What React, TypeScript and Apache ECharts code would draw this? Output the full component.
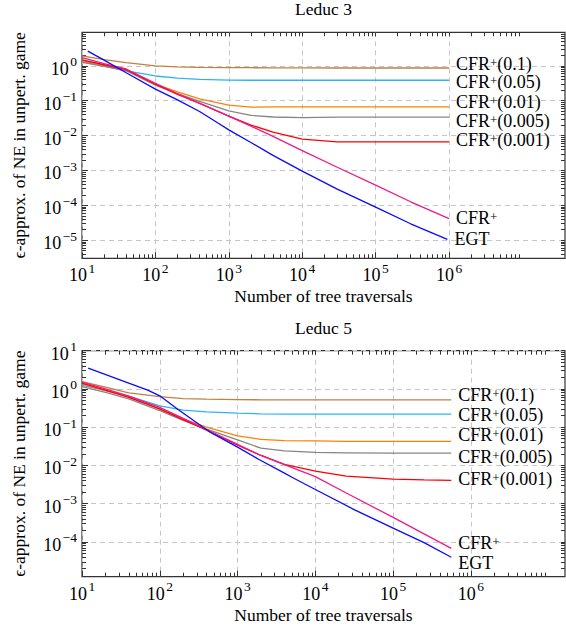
import React, { useEffect, useRef } from 'react';
import * as echarts from 'echarts';

const FONT = "'Liberation Serif', 'Times New Roman', serif";

// ---------- texts ----------
const TITLES = ['Leduc 3', 'Leduc 5'];
const X_NAME = 'Number of tree traversals';
const Y_NAME = 'ϵ-approx. of NE in unpert. game';
const SERIES_NAMES = ['CFR+(0.1)', 'CFR+(0.05)', 'CFR+(0.01)', 'CFR+(0.005)', 'CFR+(0.001)', 'CFR+', 'EGT'];
const SERIES_COLORS = ['#bf8040', '#2db4ee', '#ff8000', '#858585', '#ff0000', '#ec1b8c', '#0a0aff'];

// ---------- Leduc 3 data ----------
const L3_X = [10, 20, 40, 100, 200, 400, 1000, 2000, 4000, 10000, 30000, 100000, 300000, 1000000];
const L3_CFR_01 = [1.91, 1.51, 1.23, 1.0, 0.93, 0.9, 0.89, 0.88, 0.87, 0.867, 0.865, 0.865, 0.865, 0.865];
const L3_CFR_005 = [1.41, 1.0, 0.71, 0.51, 0.44, 0.41, 0.39, 0.385, 0.385, 0.385, 0.385, 0.385, 0.385, 0.385];
const L3_CFR_001 = [1.32, 1.0, 0.74, 0.3, 0.178, 0.112, 0.074, 0.065, 0.066, 0.066, 0.066, 0.066, 0.066, 0.066];
const L3_CFR_0005 = [1.26, 0.955, 0.72, 0.28, 0.158, 0.095, 0.051, 0.038, 0.034, 0.0327, 0.0335, 0.0339, 0.0339, 0.0339];
const L3_CFR_0001 = [1.48, 1.07, 0.776, 0.295, 0.151, 0.083, 0.036, 0.02, 0.0126, 0.0079, 0.0066, 0.0066, 0.0066, 0.0066];
const L3_CFR = [1.72, 1.15, 0.81, 0.316, 0.158, 0.085, 0.036, 0.0186, 0.0095, 0.0037, 0.00123, 0.00038, 0.000126, 0.0000417];
const L3_EGT_X = [12, 20, 40, 100, 200, 400, 720, 1000, 2000, 4000, 10000, 30000, 100000, 300000, 950000];
const L3_EGT = [2.63, 1.45, 0.63, 0.214, 0.105, 0.049, 0.0224, 0.0145, 0.0063, 0.0027, 0.00095, 0.00029, 0.000089, 0.0000295, 0.0000105];

// ---------- Leduc 5 data ----------
const L5_X = [10, 20, 40, 100, 200, 400, 1000, 2000, 4000, 10000, 25000, 100000, 250000, 560000];
const L5_CFR_01 = [1.55, 1.12, 0.79, 0.63, 0.56, 0.54, 0.525, 0.52, 0.52, 0.52, 0.52, 0.52, 0.52, 0.52];
const L5_CFR_005 = [1.26, 0.91, 0.645, 0.363, 0.28, 0.25, 0.234, 0.224, 0.219, 0.219, 0.219, 0.219, 0.219, 0.219];
const L5_CFR_001 = [1.35, 0.91, 0.63, 0.295, 0.166, 0.1, 0.0589, 0.0479, 0.0447, 0.0437, 0.0427, 0.0427, 0.0427, 0.0427];
const L5_CFR_0005 = [1.15, 0.81, 0.55, 0.27, 0.151, 0.089, 0.0468, 0.0282, 0.024, 0.0219, 0.0214, 0.0209, 0.0209, 0.0209];
const L5_CFR_0001 = [1.41, 0.933, 0.603, 0.302, 0.158, 0.083, 0.0339, 0.0182, 0.0107, 0.00708, 0.00525, 0.00437, 0.00417, 0.00407];
const L5_CFR = [1.5, 1.0, 0.645, 0.331, 0.17, 0.087, 0.0355, 0.0182, 0.0105, 0.0051, 0.0019, 0.000437, 0.000162, 0.0000676];
const L5_EGT_X = [12, 70, 100, 170, 450, 1000, 1860, 3900, 5000, 10000, 32000, 100000, 250000, 560000];
const L5_EGT = [3.5, 0.93, 0.66, 0.295, 0.0724, 0.0302, 0.0145, 0.00646, 0.0049, 0.00234, 0.00069, 0.000229, 0.0000955, 0.0000398];

// ---------- axes (powers of ten) ----------
const L3_X_RANGE = [1, 7.58];
const L3_Y_RANGE = [-5.52, 0.96];
const L5_X_RANGE = [1, 7.21];
const L5_Y_RANGE = [-4.91, 1];
const X_TICK_LABELS = [1, 2, 3, 4, 5, 6];
const L3_Y_TICK_LABELS = [-5, -4, -3, -2, -1, 0];
const L5_Y_TICK_LABELS = [-4, -3, -2, -1, 0, 1];
const X_TICK_DECADES = [1, 2, 3, 4, 5, 6];

// ---------- label nudges (layout) ----------
const L3_LABEL_DY = [-2.5, 3.5, -3.5, 5, 0, 1, 1];
const L5_LABEL_DY = [-3.5, 2.5, -5, 5, 0, -3.5, 7];

const minorTicks = (decades: number[], range: number[]) => {
  const out: number[] = [];
  decades.forEach((n) => {
    for (let k = 1; k <= 9; k++) {
      const e = n + Math.log10(k);
      if (e >= range[0] - 1e-9 && e <= range[1] + 1e-9) out.push(e);
    }
  });
  return out;
};
const decadesOf = (range: number[]) => {
  const out: number[] = [];
  for (let n = Math.floor(range[0]); n <= Math.floor(range[1]); n++) out.push(n);
  return out;
};

const supRich = {
  b: { fontFamily: FONT, fontSize: 18, lineHeight: 18, color: '#000', verticalAlign: 'bottom' },
  s: { fontFamily: FONT, fontSize: 13.5, lineHeight: 10, color: '#000', verticalAlign: 'bottom', padding: [0, 0, 9, 1.5] },
};
const nameRich = {
  n: { fontFamily: FONT, fontSize: 18, lineHeight: 15, color: '#000', verticalAlign: 'bottom' },
  p: { fontFamily: FONT, fontSize: 13, lineHeight: 11, color: '#000', verticalAlign: 'bottom', padding: [0, 0, 4, 0] },
};
const powLabel = (v: number) => {
  const e = Math.round(v);
  const s = e < 0 ? '\u2212' + -e : String(e);
  return `{b|10}{s|${s}}`;
};
const richName = (name: string) => {
  const i = name.indexOf('+');
  if (i < 0) return `{n|${name}}`;
  const rest = name.slice(i + 1);
  return `{n|${name.slice(0, i)}}{p|+}` + (rest ? `{n|${rest}}` : '');
};

const GRID_LEFT = 82;
const GRID_W = 483;
const GRID_H = 226;
const GRID_TOPS = [32.3, 350.7];
const TITLE_TOPS = [0, 318.5];

function buildPanel(p: number, cfg: any) {
  const gi = p;
  const base = p * 4;
  const split = { show: true, lineStyle: { color: '#c6c6c6', width: 1, type: [5, 4] } };
  const noLine = { show: false, onZero: false };
  const tickStyle = { color: '#333', width: 1 };
  const xMinor = minorTicks(X_TICK_DECADES, cfg.xRange);
  const yMinor = minorTicks(decadesOf(cfg.yRange), cfg.yRange);

  const xAxes = [
    {
      type: 'log', logBase: 10, gridIndex: gi, show: false,
      min: Math.pow(10, cfg.xRange[0]), max: Math.pow(10, cfg.xRange[1]),
      axisLine: noLine,
    },
    {
      type: 'value', gridIndex: gi, position: 'bottom', min: cfg.xRange[0], max: cfg.xRange[1],
      axisLine: noLine,
      axisTick: { show: true, inside: true, length: 6, customValues: X_TICK_LABELS, lineStyle: tickStyle },
      splitLine: split,
      axisLabel: {
        customValues: X_TICK_LABELS, formatter: powLabel, rich: supRich, margin: 8,
        hideOverlap: false, showMinLabel: true, showMaxLabel: true,
      },
      name: X_NAME, nameLocation: 'middle', nameGap: 29, nameMoveOverlap: false,
      nameTextStyle: { fontFamily: FONT, fontSize: 17.5, color: '#000' },
    },
    {
      type: 'value', gridIndex: gi, position: 'bottom', min: cfg.xRange[0], max: cfg.xRange[1],
      axisLine: noLine, splitLine: { show: false }, axisLabel: { show: false },
      axisTick: { show: true, inside: true, length: 4, customValues: xMinor, lineStyle: tickStyle },
    },
    {
      type: 'value', gridIndex: gi, position: 'top', min: cfg.xRange[0], max: cfg.xRange[1],
      axisLine: noLine, splitLine: { show: false }, axisLabel: { show: false },
      axisTick: { show: true, inside: true, length: 4, customValues: xMinor, lineStyle: tickStyle },
    },
  ];
  const yAxes = [
    {
      type: 'log', logBase: 10, gridIndex: gi, show: false,
      min: Math.pow(10, cfg.yRange[0]), max: Math.pow(10, cfg.yRange[1]),
      axisLine: noLine,
    },
    {
      type: 'value', gridIndex: gi, position: 'left', min: cfg.yRange[0], max: cfg.yRange[1],
      axisLine: noLine,
      axisTick: { show: true, inside: true, length: 6, customValues: cfg.yLabels, lineStyle: tickStyle },
      splitLine: split,
      axisLabel: {
        customValues: cfg.yLabels, formatter: powLabel, rich: supRich, margin: 5, align: 'right',
        padding: [6, 0, 0, 0], hideOverlap: false, showMinLabel: true, showMaxLabel: true,
      },
      name: Y_NAME, nameLocation: 'middle', nameGap: 54, nameRotate: 90, nameMoveOverlap: false,
      nameTextStyle: { fontFamily: FONT, fontSize: 17.5, color: '#000' },
    },
    {
      type: 'value', gridIndex: gi, position: 'left', min: cfg.yRange[0], max: cfg.yRange[1],
      axisLine: noLine, splitLine: { show: false }, axisLabel: { show: false },
      axisTick: { show: true, inside: true, length: 4, customValues: yMinor, lineStyle: tickStyle },
    },
    {
      type: 'value', gridIndex: gi, position: 'right', min: cfg.yRange[0], max: cfg.yRange[1],
      axisLine: noLine, splitLine: { show: false }, axisLabel: { show: false },
      axisTick: { show: true, inside: true, length: 4, customValues: yMinor, lineStyle: tickStyle },
    },
  ];

  const series = cfg.lines.map((ln: any, i: number) => ({
    type: 'line',
    name: SERIES_NAMES[i] + ' ' + TITLES[p],
    xAxisIndex: base,
    yAxisIndex: base,
    data: ln.x.map((x: number, j: number) => [x, ln.y[j]]),
    showSymbol: false,
    symbol: 'none',
    silent: true,
    lineStyle: { color: SERIES_COLORS[i], width: 1.3 },
    itemStyle: { color: SERIES_COLORS[i] },
    z: 3 + i,
    endLabel: {
      show: true,
      formatter: () => richName(SERIES_NAMES[i]),
      rich: nameRich,
      distance: 7,
      offset: [0, cfg.labelDy[i]],
      color: '#000',
    },
  }));

  return {
    grid: {
      left: GRID_LEFT, top: GRID_TOPS[p], width: GRID_W, height: GRID_H,
      show: true, borderColor: '#333', borderWidth: 1.2, backgroundColor: 'transparent',
      outerBoundsMode: 'none', containLabel: false,
    },
    title: {
      text: TITLES[p], left: GRID_LEFT + GRID_W / 2, top: TITLE_TOPS[p], textAlign: 'center', padding: 0,
      textStyle: { fontFamily: FONT, fontSize: 17.5, fontWeight: 'normal', color: '#000' },
    },
    xAxes, yAxes, series,
  };
}

export default function App() {
  const ref = useRef<HTMLDivElement>(null);
  useEffect(() => {
    if (!ref.current) return;
    const chart = echarts.init(ref.current, null, { renderer: 'svg' });
    const panels = [
      buildPanel(0, {
        xRange: L3_X_RANGE, yRange: L3_Y_RANGE, yLabels: L3_Y_TICK_LABELS, labelDy: L3_LABEL_DY,
        lines: [
          { x: L3_X, y: L3_CFR_01 }, { x: L3_X, y: L3_CFR_005 }, { x: L3_X, y: L3_CFR_001 },
          { x: L3_X, y: L3_CFR_0005 }, { x: L3_X, y: L3_CFR_0001 }, { x: L3_X, y: L3_CFR },
          { x: L3_EGT_X, y: L3_EGT },
        ],
      }),
      buildPanel(1, {
        xRange: L5_X_RANGE, yRange: L5_Y_RANGE, yLabels: L5_Y_TICK_LABELS, labelDy: L5_LABEL_DY,
        lines: [
          { x: L5_X, y: L5_CFR_01 }, { x: L5_X, y: L5_CFR_005 }, { x: L5_X, y: L5_CFR_001 },
          { x: L5_X, y: L5_CFR_0005 }, { x: L5_X, y: L5_CFR_0001 }, { x: L5_X, y: L5_CFR },
          { x: L5_EGT_X, y: L5_EGT },
        ],
      }),
    ];
    chart.setOption({
      animation: false,
      textStyle: { fontFamily: FONT },
      title: panels.map((q) => q.title),
      grid: panels.map((q) => q.grid),
      xAxis: panels.flatMap((q) => q.xAxes),
      yAxis: panels.flatMap((q) => q.yAxes),
      series: panels.flatMap((q) => q.series),
    });
    return () => chart.dispose();
  }, []);
  return (
    <div
      ref={ref}
      style={{ position: 'fixed', left: 0, top: 0, width: 566, height: 632, background: '#fff' }}
    />
  );
}
